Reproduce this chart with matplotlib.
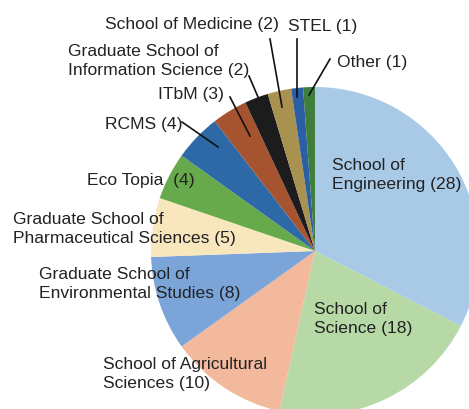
import matplotlib
matplotlib.use("Agg")
import matplotlib.pyplot as plt

categories = ["School of\nEngineering", "School of\nScience", "School of Agricultural\nSciences",
              "Graduate School of\nEnvironmental Studies", "Graduate School of\nPharmaceutical Sciences",
              "Eco Topia ", "RCMS", "ITbM", "Graduate School of\nInformation Science",
              "School of Medicine", "STEL", "Other"]
values = [28, 18, 10, 8, 5, 4, 4, 3, 2, 2, 1, 1]
colors = ["#a9cae6", "#b6d9a6", "#f3b99d", "#7ba4d8", "#f8e6bd", "#67aa4c",
          "#2e69a7", "#a6532f", "#1c1c1c", "#a99150", "#2c5ea3", "#3f7d3c"]

# label layout (pixel coordinates, y measured from top)
label_pos = [(332, 175), (314, 319), (103, 374), (39, 284), (13, 229), (87, 181),
             (105, 124), (158, 95), (68, 61), (105, 24), (288, 26), (337, 63)]
leaders = {
    6: ((182, 123), (218, 148)),
    7: ((230, 98), (250, 137)),
    8: ((249, 77), (258, 98)),
    9: ((270, 40), (282, 108)),
    10: ((297, 40), (297, 98)),
    11: ((330, 60), (309, 96)),
}

W, H = 469, 410
fig = plt.figure(figsize=(W / 100, H / 100), dpi=100)
fig.patch.set_facecolor("white")
ax = fig.add_axes([0, 0, 1, 1])

center = (315, 252)
radius = 164
ax.pie(values, colors=colors, startangle=-90, counterclock=True,
       center=center, radius=radius, frame=True,
       wedgeprops=dict(linewidth=0))
ax.set_xlim(0, W)
ax.set_ylim(H, 0)
ax.set_aspect("equal")
ax.axis("off")

for i, (name, v) in enumerate(zip(categories, values)):
    x, y = label_pos[i]
    ax.text(x, y, f"{name} ({v})", ha="left", va="center", fontsize=12.6,
            family=["Liberation Sans", "DejaVu Sans"], color="#222222",
            linespacing=1.28)

for i, (p0, p1) in leaders.items():
    ax.plot([p0[0], p1[0]], [p0[1], p1[1]], color="#111111", lw=1.2)

fig.savefig("out.png", dpi=100, facecolor="white")
